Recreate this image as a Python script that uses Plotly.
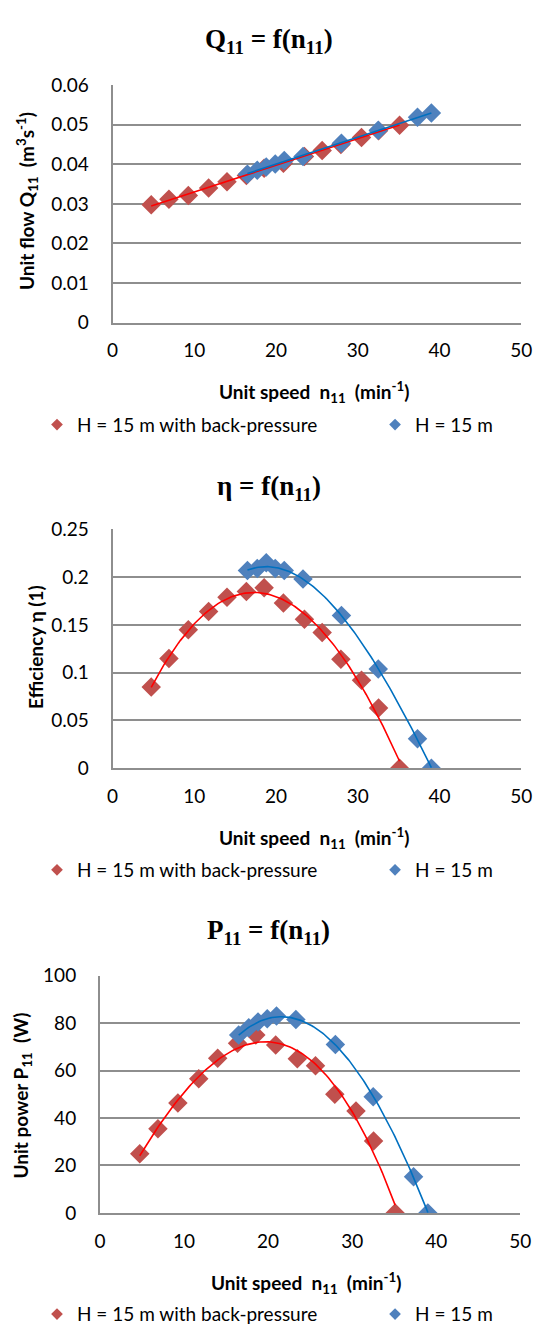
import numpy as np
import plotly.graph_objects as go

# ---------------- data ----------------
n11_bp = [4.73, 6.90, 9.27, 11.75, 14.0, 16.37, 18.54, 20.9, 23.47, 25.64, 27.93, 30.45, 32.54, 35.11]
q11_bp = [0.0298, 0.0312, 0.0321, 0.0340, 0.0356, 0.0372, 0.0390, 0.0403, 0.0420, 0.0435, 0.0450, 0.0468, 0.0485, 0.0499]
eta_bp = [0.085, 0.115, 0.145, 0.164, 0.179, 0.185, 0.189, 0.173, 0.156, 0.142, 0.114, 0.092, 0.063, 0.0]
p11_bp = [25.0, 35.5, 46.3, 56.5, 65.2, 71.5, 75.0, 70.8, 65.0, 62.0, 50.0, 43.0, 30.3, 0.0]

n11_h = [16.5, 17.7, 18.8, 19.9, 21.0, 23.3, 28.0, 32.5, 37.3, 39.0]
q11_h = [0.0375, 0.0385, 0.0393, 0.0401, 0.0410, 0.0420, 0.0453, 0.0486, 0.0519, 0.0530]
eta_h = [0.207, 0.209, 0.215, 0.209, 0.207, 0.198, 0.160, 0.104, 0.031, 0.0]
p11_h = [75.0, 78.0, 80.5, 81.8, 83.0, 81.5, 71.0, 49.0, 15.3, 0.0]

series_names = ["H = 15 m with back-pressure", "H = 15 m"]
x_ticks = [0, 10, 20, 30, 40, 50]

# ---------------- style ----------------
W, H = 542, 1336
RED_M, BLUE_M = "#C0504D", "#4F81BD"
RED_L, BLUE_L = "#FF0000", "#0070C0"
GRID = "#8E8E8E"
FONT = "Lato"


def px_x(p):
    return p / W


def px_y(p):
    return 1 - p / H


def trend(x, y, deg):
    c = np.polyfit(x, y, deg)
    xs = np.linspace(min(x), max(x), 120)
    return xs, np.polyval(c, xs)


fig = go.Figure()

panels = [
    dict(y_bp=q11_bp, y_h=q11_h, deg=1, yr=[0, 0.06], dt=0.01,
         xdom=(110, 532), ydom=(74.5, 316), leg_y=420),
    dict(y_bp=eta_bp, y_h=eta_h, deg=3, yr=[0, 0.25], dt=0.05,
         xdom=(110, 532), ydom=(526.5, 769.5), leg_y=873),
    dict(y_bp=p11_bp, y_h=p11_h, deg=3, yr=[0, 100], dt=20,
         xdom=(97, 531), ydom=(980.5, 1222), leg_y=1325),
]

legend_layouts = {}
for i, p in enumerate(panels):
    k = "" if i == 0 else str(i + 1)
    xa, ya = "x" + k, "y" + k
    # markers
    fig.add_trace(go.Scatter(x=n11_bp, y=p["y_bp"], mode="markers", xaxis=xa, yaxis=ya,
                             marker=dict(symbol="diamond", size=15, color=RED_M),
                             showlegend=False, hoverinfo="x+y"))
    fig.add_trace(go.Scatter(x=n11_h, y=p["y_h"], mode="markers", xaxis=xa, yaxis=ya,
                             marker=dict(symbol="diamond", size=15, color=BLUE_M),
                             showlegend=False, hoverinfo="x+y"))
    # trendlines
    tx, ty = trend(n11_bp, p["y_bp"], p["deg"])
    fig.add_trace(go.Scatter(x=tx, y=ty, mode="lines", xaxis=xa, yaxis=ya,
                             line=dict(color=RED_L, width=1.6), showlegend=False, hoverinfo="skip"))
    tx, ty = trend(n11_h, p["y_h"], p["deg"])
    fig.add_trace(go.Scatter(x=tx, y=ty, mode="lines", xaxis=xa, yaxis=ya,
                             line=dict(color=BLUE_L, width=1.6), showlegend=False, hoverinfo="skip"))
    # legend entries (one legend per entry, to place them like the reference)
    for j, (name, col, lx) in enumerate(zip(series_names, [RED_M, BLUE_M], [32, 381])):
        lname = "legend" + ("" if (i == 0 and j == 0) else str(2 * i + j + 1))
        fig.add_trace(go.Scatter(x=[None], y=[None], mode="markers", xaxis=xa, yaxis=ya,
                                 marker=dict(symbol="diamond", size=9, color=col),
                                 name=name, legend=lname, showlegend=True))
        legend_layouts[lname] = dict(orientation="h", x=px_x(lx), y=px_y(p["leg_y"]),
                                     xanchor="left", yanchor="middle",
                                     font=dict(family=FONT, size=19, color="#000"),
                                     bgcolor="rgba(0,0,0,0)", itemclick=False,
                                     itemdoubleclick=False)

    axis_common = dict(showgrid=True, gridcolor=GRID, gridwidth=1.5, zeroline=False,
                       showline=True, linecolor=GRID, linewidth=2, ticks="",
                       tickfont=dict(family=FONT, size=19, color="#000"))
    fig.layout["xaxis" + k] = dict(axis_common, domain=[px_x(p["xdom"][0]), px_x(p["xdom"][1])],
                                   anchor=ya, range=[0, 50], tickvals=x_ticks, showgrid=False,
                                   ticklabelstandoff=10, ticklabeloverflow="allow")
    yticks = list(np.round(np.arange(p["yr"][0], p["yr"][1] + p["dt"] / 2, p["dt"]), 4))
    ytext = [("0" if v == 0 else f"{v:g}") for v in yticks]
    fig.layout["yaxis" + k] = dict(axis_common, domain=[px_y(p["ydom"][1]), px_y(p["ydom"][0])],
                                   anchor=xa, range=p["yr"], tickvals=yticks, ticktext=ytext,
                                   ticklabelstandoff=18)

fig.update_layout(**legend_layouts)

titles = [
    ("Q<sub>11</sub> = f(n<sub>11</sub>)", 30),
    ("η = f(n<sub>11</sub>)", 484),
    ("P<sub>11</sub> = f(n<sub>11</sub>)", 936),
]
ann = []
for t, yy in titles:
    ann.append(dict(text=t, x=0.5, y=px_y(yy), xref="paper", yref="paper", showarrow=False,
                    xanchor="center", yanchor="middle",
                    font=dict(family="Liberation Serif", size=27, color="#000", weight="bold")))

xtitle = "Unit speed  n<sub>11</sub>  (min<sup>-1</sup>)"
for xc, yy in [(318, 387), (318, 840), (310, 1293)]:
    ann.append(dict(text=xtitle, x=px_x(xc), y=px_y(yy), xref="paper", yref="paper", showarrow=False,
                    xanchor="center", yanchor="middle",
                    font=dict(family=FONT, size=19, color="#000", weight="bold")))

ytitles = [
    ("Unit flow Q<sub>11</sub>  (m<sup>3</sup>s<sup>-1</sup>)", 21, 192),
    ("Efficiency η (1)", 31, 646),
    ("Unit power P<sub>11</sub>  (W)", 17, 1102),
]
for t, xc, yc in ytitles:
    ann.append(dict(text=t, x=px_x(xc), y=px_y(yc), xref="paper", yref="paper", showarrow=False,
                    xanchor="center", yanchor="middle", textangle=-90,
                    font=dict(family=FONT, size=19, color="#000", weight="bold")))

fig.update_layout(width=W, height=H, margin=dict(l=0, r=0, t=0, b=0),
                  paper_bgcolor="white", plot_bgcolor="white", annotations=ann,
                  font=dict(family=FONT, color="#000"))

fig.write_html("out.html", config={"displayModeBar": False},
               post_script="document.body.style.margin='0';document.body.style.overflow='hidden';")
